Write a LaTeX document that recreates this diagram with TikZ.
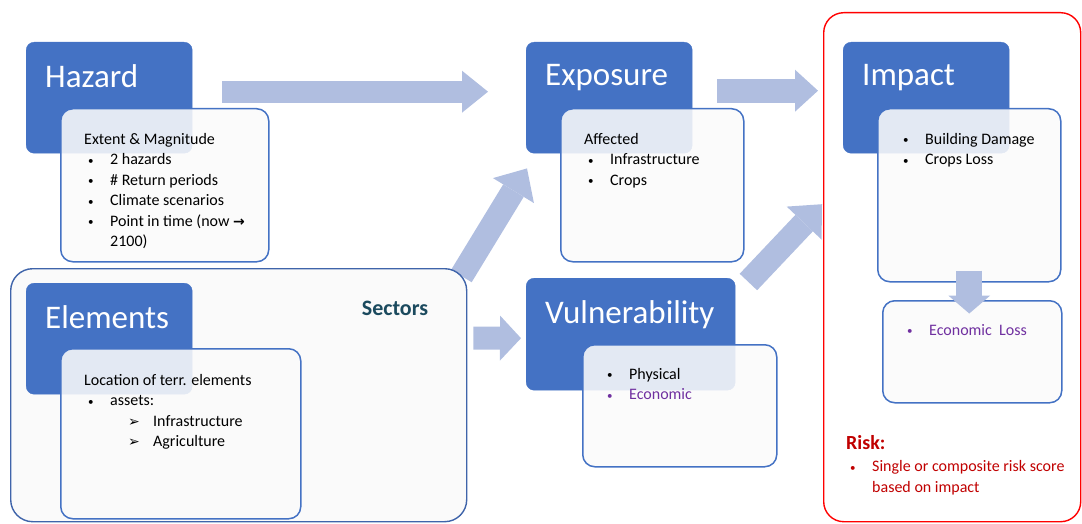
\documentclass[tikz,border=0pt]{standalone}
\usepackage{fontspec}
\setmainfont{Carlito}
\newfontfamily\symfont{DejaVu Sans}
\usetikzlibrary{positioning,arrows.meta,backgrounds}

\definecolor{hblue}{HTML}{4472C4}
\definecolor{frameblue}{HTML}{3F64AA}
\definecolor{arrc}{HTML}{B0BEE0}
\definecolor{secc}{HTML}{1B4A5E}
\definecolor{riskred}{HTML}{C00000}
\definecolor{econ}{HTML}{7030A0}

\newcommand\dotb{\raisebox{0.5pt}{\fontsize{11}{11}\selectfont\textbullet}}
\newcommand\bul[1]{\hspace*{4pt}\makebox[22pt][l]{\dotb}#1}
\newcommand\sub[1]{\hspace*{44pt}\makebox[25pt][l]{\symfont\fontsize{14}{14}\selectfont ➢}#1}

\begin{document}
\begin{tikzpicture}[
x=1pt, y=-1pt,
head/.style={fill=hblue, draw=hblue, rounded corners=8pt, anchor=north west, inner sep=0pt,
  minimum width=166pt, minimum height=111pt},
body/.style={draw=hblue, line width=1.5pt, fill=white!98!black, fill opacity=0.88,
  rounded corners=12pt, anchor=north west, inner sep=0pt},
headtxt/.style={text=white, font=\fontsize{33}{36}\selectfont, inner sep=0pt},
bodytxt/.style={font=\fontsize{16}{20.5}\selectfont, align=left, inner sep=0pt},
bigarrow/.style={draw=arrc, line width=#1, line cap=butt},
]

\useasboundingbox (0,0) rectangle (1082,524);

%-------------------------
% Outer frames
%-------------------------

\node (riskbox) [draw=red, line width=1.4pt, rounded corners=20pt, anchor=north west,
  minimum width=257pt, minimum height=509pt] at (823,12) {};

\node (eleout) [draw=frameblue, line width=1.4pt, fill=white!98!black, rounded corners=22pt,
  anchor=north west, minimum width=456pt, minimum height=253pt] at (10,268) {};

\node (sectors) [font=\fontsize{22}{24}\selectfont\bfseries, text=secc] at (395,308) {Sectors};

%-------------------------
% Blocks
%-------------------------

\node (hazhead) [head] at (26,42) {};
\node (hazbody) [body, minimum width=208pt, minimum height=153pt] at (60,108) {};

\node (exphead) [head] at (526,42) {};
\node (expbody) [body, minimum width=183pt, minimum height=153pt] at (560,108) {};

\node (imphead) [head] at (843,42) {};
\node (impbody) [body, minimum width=183pt, minimum height=173pt] at (877,108) {};

\node (elehead) [head] at (26,283) {};
\node (elebody) [body, minimum width=240pt, minimum height=170pt] at (60,348) {};

\node (vulhead) [head, minimum width=209pt, minimum height=112pt] at (526,278) {};
\node (vulbody) [body, minimum width=194pt, minimum height=122pt] at (582,344) {};

\node (econbox) [body, minimum width=179pt, minimum height=102pt] at (882,300) {};

%-------------------------
% Titles
%-------------------------

\node (haztitle) [headtxt, below right=22pt and 19pt of hazhead.north west] {Hazard};
\node (exptitle) [headtxt, below right=22pt and 19pt of exphead.north west] {Exposure};
\node (imptitle) [headtxt, below right=22pt and 19pt of imphead.north west] {Impact};
\node (eletitle) [headtxt, below right=22pt and 19pt of elehead.north west] {Elements};
\node (vultitle) [headtxt, below right=22pt and 19pt of vulhead.north west] {Vulnerability};

%-------------------------
% Texts
%-------------------------

\node (haztext) [bodytxt, below right=25pt and 24pt of hazbody.north west]
{Extent \& Magnitude\\
 \bul{2 hazards}\\
 \bul{\# Return periods}\\
 \bul{Climate scenarios}\\
 \bul{Point in time (now {\symfont\fontsize{14}{14}\selectfont\bfseries →}}\\
 \hspace*{26pt}2100)};

\node (exptext) [bodytxt, below right=25pt and 24pt of expbody.north west]
{Affected\\
 \bul{Infrastructure}\\
 \bul{Crops}};

\node (imptext) [bodytxt, below right=25pt and 22pt of impbody.north west]
{\bul{Building Damage}\\
 \bul{Crops Loss}};

\node (eletext) [bodytxt, below right=26pt and 24pt of elebody.north west]
{Location of terr. elements\\
 \bul{assets:}\\
 \sub{Infrastructure}\\
 \sub{Agriculture}};

\node (vultext) [bodytxt, below right=24pt and 21pt of vulbody.north west]
{\bul{Physical}\\
 \textcolor{econ}{\bul{Economic}}};

\node (econtext) [bodytxt, text=econ, below right=24pt and 21pt of econbox.north west]
{\bul{Economic\ \ Loss}};

\node (risktitle) [font=\fontsize{20}{22}\selectfont\bfseries, text=riskred, inner sep=0pt,
  anchor=base west] at (846,449) {Risk:};
\node (risktext) [bodytxt, text=riskred, below right=11pt and 0pt of risktitle.south west]
{\bul{Single or composite risk score}\\
 \hspace*{26pt}based on impact};

%-------------------------
% Arrows
%-------------------------

\draw[bigarrow=22pt, -{Triangle[length=26pt,width=42pt,line width=0pt]}]
  ([xshift=30pt,yshift=6pt]hazhead.east) -- ([xshift=-38pt,yshift=6pt]exphead.west);
\draw[bigarrow=24pt, -{Triangle[length=23pt,width=42pt,line width=0pt]}]
  ([xshift=25pt,yshift=7pt]exphead.east) -- ([xshift=-25pt,yshift=7pt]imphead.west);
\draw[bigarrow=23pt, -{Triangle[length=21pt,width=45pt,line width=0pt]}]
  ([xshift=6pt,yshift=-70pt]eleout.north east) -- ([xshift=-5pt,yshift=-4pt]vulhead.west);
\draw[bigarrow=24pt, -{Triangle[length=26pt,width=48pt,line width=0pt]}]
  ([xshift=13pt,yshift=-4pt]vulhead.north east) -- ([xshift=-1pt,yshift=63pt]riskbox.west);
\draw[bigarrow=26pt, -{Triangle[length=18pt,width=42pt,line width=0pt]}]
  ([yshift=12pt]impbody.south) -- ([yshift=-31pt]impbody.south);

% tail of this one runs under the sector frame
\begin{pgfonlayer}{background}
\draw[bigarrow=24pt, -{Triangle[length=26pt,width=48pt,line width=0pt]}]
  ([xshift=-6pt,yshift=-8pt]eleout.north east) -- ([xshift=1pt,yshift=-15pt]exphead.south west);
\end{pgfonlayer}

\end{tikzpicture}
\end{document}
